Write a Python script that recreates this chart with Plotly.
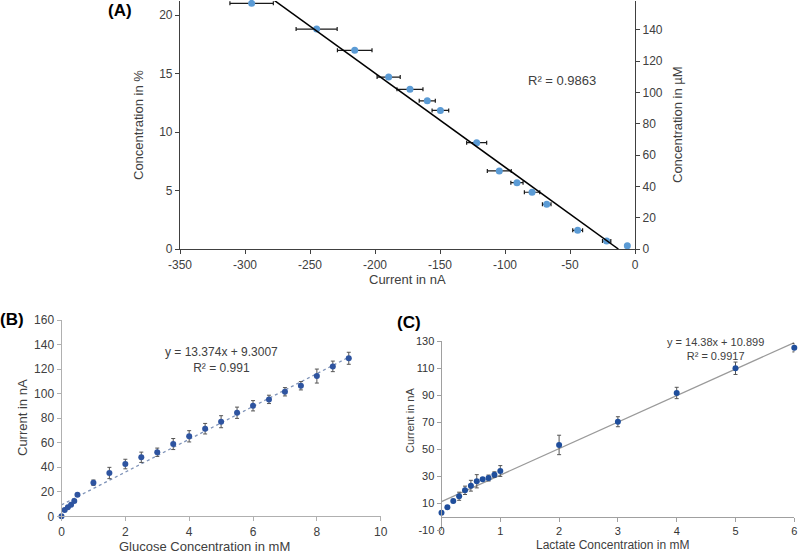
import plotly.graph_objects as go

# ---- (A) calibration: concentration vs current ----
a_current = [-294.9, -244.9, -215.6, -189.5, -173.1, -159.8, -149.7, -121.8,
             -104.4, -90.8, -79.2, -67.9, -44.1, -21.8, -5.9]
a_conc = [21.0, 18.8, 16.98, 14.7, 13.65, 12.67, 11.85, 9.09,
          6.67, 5.67, 4.85, 3.82, 1.6, 0.68, 0.28]
a_err = [16.7, 15.8, 13.3, 8.9, 10.0, 6.2, 6.4, 7.7,
         9.2, 4.7, 5.9, 3.3, 3.8, 3.2, 1.0]
a_fit_x = [-285.0, -12.8]          # drawn trendline ends (nA)
a_fit_slope = -0.0803               # % per nA
a_r2_text = "R² = 0.9863"
a_xticks = [-350, -300, -250, -200, -150, -100, -50, 0]
a_xtick_text = ["-350", "-300", "-250", "-200", "-150", "-100", "-50", "0"]

# ---- (B) glucose ----
b_conc = [0, 0.1, 0.2, 0.3, 0.4, 0.5, 1, 1.5, 2, 2.5, 3, 3.5, 4, 4.5,
          5, 5.5, 6, 6.5, 7, 7.5, 8, 8.5, 9]
b_current = [0, 5.1, 7.3, 9.5, 12.5, 17.6, 27.4, 35.3, 42.6, 48.1, 52.2, 58.9,
             65.2, 71.4, 77.1, 84.4, 90.1, 95.3, 101.5, 106.4, 114.3, 122.2, 128.8]
b_err = [0.5, 0.8, 0.8, 0.8, 1.0, 1.0, 2.2, 4.6, 3.9, 4.2, 3.4, 4.5,
         4.6, 4.3, 4.9, 4.6, 4.2, 3.4, 3.4, 3.4, 5.7, 4.3, 4.9]
b_slope, b_icpt = 13.374, 9.3007
b_eq_text = "y = 13.374x + 9.3007<br>R² = 0.991"

# ---- (C) lactate ----
c_conc = [0, 0.1, 0.2, 0.3, 0.4, 0.5, 0.6, 0.7, 0.8, 0.9, 1, 2, 3, 4, 5, 6]
c_current = [2.8, 6.8, 11.5, 15.0, 19.4, 22.8, 26.1, 27.6, 28.5, 31.0, 33.7,
             53.0, 70.2, 91.5, 109.8, 125.0]
c_err = [0.8, 0.8, 1.2, 3.0, 3.1, 4.0, 4.9, 1.0, 2.2, 2.1, 4.0,
         7.2, 3.7, 4.2, 4.6, 3.1]
c_fit_x = [0, 6]
c_fit_y = [11.0, 128.8]             # trendline as drawn
c_eq_text = "y = 14.38x + 10.899<br>R² = 0.9917"
c_yticks = [-10, 10, 30, 50, 70, 90, 110, 130]
c_ytick_text = ["-10", "10", "30", "50", "70", "90", "110", "130"]

W, H = 800, 556
FONT = "Arial, Liberation Sans, sans-serif"


def px(x):
    return x / W


def py(y):
    return 1 - y / H


fig = go.Figure()

# A
fig.add_trace(go.Scatter(x=a_current, y=a_conc, mode="markers", cliponaxis=False,
                         marker=dict(color="#5B9BD5", size=7),
                         error_x=dict(type="data", array=a_err, color="#1a1a1a",
                                      thickness=1.2, width=2),
                         xaxis="x", yaxis="y", showlegend=False))
a_icpt = -a_fit_slope * a_fit_x[1]
fig.add_trace(go.Scatter(x=a_fit_x, y=[a_fit_slope * v + a_icpt for v in a_fit_x],
                         mode="lines", line=dict(color="#000000", width=1.5),
                         xaxis="x", yaxis="y", showlegend=False))
fig.add_trace(go.Scatter(x=[None], y=[None], xaxis="x", yaxis="y2", showlegend=False))

# B
fig.add_trace(go.Scatter(x=[0, 9], y=[b_icpt, b_slope * 9 + b_icpt], mode="lines",
                         line=dict(color="#7f93b8", width=1.3, dash="dot"),
                         xaxis="x2", yaxis="y3", showlegend=False))
fig.add_trace(go.Scatter(x=b_conc, y=b_current, mode="markers", cliponaxis=False,
                         marker=dict(color="#2E54A0", size=6),
                         error_y=dict(type="data", array=b_err, color="#555555",
                                      thickness=1, width=2),
                         xaxis="x2", yaxis="y3", showlegend=False))

# C
fig.add_trace(go.Scatter(x=c_fit_x, y=c_fit_y, mode="lines",
                         line=dict(color="#9a9a9a", width=1.2),
                         xaxis="x3", yaxis="y4", showlegend=False))
fig.add_trace(go.Scatter(x=c_conc, y=c_current, mode="markers", cliponaxis=False,
                         marker=dict(color="#1F4E9C", size=6),
                         error_y=dict(type="data", array=c_err, color="#555555",
                                      thickness=1, width=2),
                         xaxis="x3", yaxis="y4", showlegend=False))

axA = dict(showgrid=False, zeroline=False, showline=True, linecolor="#404040",
           linewidth=1.2, ticks="outside", ticklen=4, tickcolor="#404040",
           automargin=False, tickfont=dict(size=12, color="#404040"))
axB = dict(showgrid=False, zeroline=False, showline=True, linecolor="#b0b0b0",
           linewidth=1, ticks="outside", ticklen=4, tickcolor="#b0b0b0",
           automargin=False, tickfont=dict(size=12, color="#404040"))
axC = dict(showgrid=False, zeroline=False, showline=True, linecolor="#a0a0a0",
           linewidth=1, ticks="outside", ticklen=4, tickcolor="#a0a0a0",
           automargin=False, tickfont=dict(size=11, color="#333333"))

c_dom = [py(530), py(341)]
c_zero_pos = c_dom[0] + (0 - (-10)) / 140 * (c_dom[1] - c_dom[0])

fig.update_layout(
    width=W, height=H, margin=dict(l=0, r=0, t=0, b=0),
    paper_bgcolor="white", plot_bgcolor="white",
    font=dict(family=FONT, color="#404040"),
    xaxis=dict(axA, domain=[px(180), px(635)], range=[-350, 0],
               tickvals=a_xticks, ticktext=a_xtick_text, anchor="y"),
    yaxis=dict(axA, domain=[py(249), py(1)], range=[0, 21.2], dtick=5, anchor="x"),
    yaxis2=dict(axA, range=[0, 158.5], dtick=20, overlaying="y", side="right", anchor="x"),
    xaxis2=dict(axB, domain=[px(61.5), px(380.7)], range=[0, 10], dtick=2, anchor="y3"),
    yaxis3=dict(axB, domain=[py(516.3), py(320)], range=[0, 160], dtick=20, anchor="x2"),
    xaxis3=dict(axC, domain=[px(441.5), px(794.3)], range=[0, 6], dtick=1,
                anchor="free", position=c_zero_pos),
    yaxis4=dict(axC, domain=c_dom, range=[-10, 130], tickvals=c_yticks,
                ticktext=c_ytick_text, anchor="x3"),
)

ann = [
    dict(text="<b>(A)</b>", x=px(120), y=py(11), size=17, color="#000000"),
    dict(text=a_r2_text, x=px(562), y=py(81), size=13),
    dict(text="Concentration in %", x=px(139), y=py(125), size=13, angle=-90),
    dict(text="Concentration in µM", x=px(678), y=py(125), size=13, angle=-90),
    dict(text="Current in nA", x=px(407), y=py(279), size=13),
    dict(text="<b>(B)</b>", x=px(12), y=py(319), size=17, color="#000000"),
    dict(text=b_eq_text, x=px(221), y=py(360), size=12),
    dict(text="Current in nA", x=px(22), y=py(418), size=13, angle=-90),
    dict(text="Glucose Concentration in mM", x=px(204), y=py(546), size=13),
    dict(text="<b>(C)</b>", x=px(409), y=py(322), size=17, color="#000000"),
    dict(text=c_eq_text, x=px(715), y=py(349), size=11),
    dict(text="Current in nA", x=px(410), y=py(420), size=11, angle=-90),
    dict(text="Lactate Concentration in mM", x=px(612), y=py(545), size=12),
]
for a in ann:
    fig.add_annotation(text=a["text"], x=a["x"], y=a["y"], xref="paper", yref="paper",
                       showarrow=False, textangle=a.get("angle", 0),
                       xanchor="center", yanchor="middle",
                       font=dict(family=FONT, size=a["size"], color=a.get("color", "#404040")))

# page body has a default 8px margin; drop it so the figure sits at the corner
fig.write_html("out.html", config={"displayModeBar": False},
               post_script="document.body.style.margin='0';")
